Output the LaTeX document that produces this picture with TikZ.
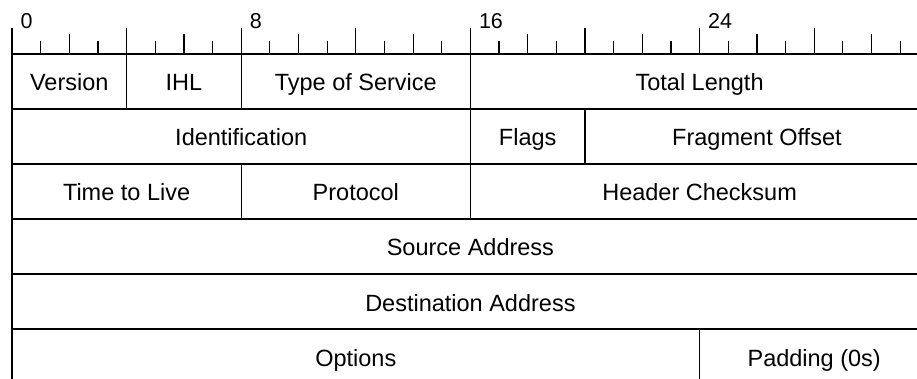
\documentclass[tikz,border=0pt]{standalone}
\usepackage{fontspec}
\setmainfont{Liberation Sans}
\begin{document}
\begin{tikzpicture}[x=28.65pt, y=55pt, line width=1.2pt,
  campo/.style={draw, rectangle, inner sep=0pt, minimum height=55pt,
    minimum width=#1*28.65pt, text height=21pt, text depth=2pt,
    font=\fontsize{23.5}{28}\selectfont},
  marca/.style={anchor=south west, inner sep=0pt, font=\fontsize{21.5}{25}\selectfont}]
\useasboundingbox (-12pt,54pt) rectangle (905pt,-325pt);

% Regla de bits: 0..31
\draw (0,0) -- (905pt,0);
\foreach \b in {1,3,...,31} \draw (\b,0) -- ++(0,13pt);
\foreach \b in {2,6,...,30} \draw (\b,0) -- ++(0,20pt);
\foreach \b in {0,4,...,28} \draw (\b,0) -- ++(0,26pt);
\foreach \b in {0,8,16,24}
  \node[marca, xshift=8pt, yshift=25pt] (bit\b) at (\b,0) {\b};

% Fila 1
\node[campo=4] (version) at (2,-0.5) {Version};
\node[campo=4] (ihl) at (6,-0.5) {IHL};
\node[campo=8] (tos) at (12,-0.5) {Type of Service};
\node[campo=16] (totlen) at (24,-0.5) {Total Length};

% Fila 2
\node[campo=16] (ident) at (8,-1.5) {Identification};
\node[campo=4] (flags) at (18,-1.5) {Flags};
\node[campo=12] (fragoff) at (26,-1.5) {Fragment Offset};

% Fila 3
\node[campo=8] (ttl) at (4,-2.5) {Time to Live};
\node[campo=8] (proto) at (12,-2.5) {Protocol};
\node[campo=16] (checksum) at (24,-2.5) {Header Checksum};

% Filas 4 y 5: direcciones
\node[campo=32] (src) at (16,-3.5) {Source Address};
\node[campo=32] (dst) at (16,-4.5) {Destination Address};

% Fila 6
\node[campo=24] (options) at (12,-5.5) {Options};
\node[campo=8] (padding) at (28,-5.5) {Padding (0s)};
\end{tikzpicture}
\end{document}
